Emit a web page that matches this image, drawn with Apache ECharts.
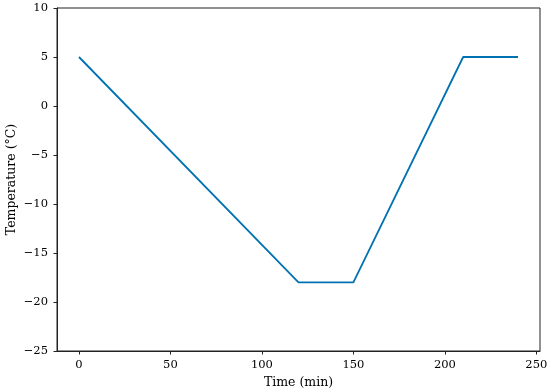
<!DOCTYPE html>
<html>
<head>
<meta charset="utf-8">
<script src="https://cdn.jsdelivr.net/npm/echarts@6/dist/echarts.min.js"></script>
<style>html,body{margin:0;padding:0;background:#fff}#c{width:550px;height:391px}</style>
</head>
<body>
<div id="c"></div>
<script>
const timeMin = [0, 120, 150, 210, 240];
const temperature = [5, -18, -18, 5, 5];
const xTicks = [0, 50, 100, 150, 200, 250];
const yTicks = [-25, -20, -15, -10, -5, 0, 5, 10];

const font = 'DejaVu Serif';
const fmt = v => String(v).replace('-', '\u2212');
const chart = echarts.init(document.getElementById('c'));
chart.setOption({
  animation: false,
  grid: {left: 57, right: 10, top: 8, bottom: 40, containLabel: false, outerBoundsMode: 'none',
         show: true, borderColor: '#222', borderWidth: 1, backgroundColor: 'transparent'},
  xAxis: {
    type: 'value', min: -12, max: 252,
    name: 'Time (min)', nameLocation: 'middle', nameGap: 25, nameMoveOverlap: false,
    nameTextStyle: {fontFamily: font, fontSize: 12.5, color: '#000'},
    axisLine: {show: true, onZero: false, lineStyle: {color: '#222', width: 1}},
    axisTick: {show: true, length: 3.5, lineStyle: {color: '#222'}, customValues: xTicks},
    axisLabel: {fontFamily: font, fontSize: 11.5, color: '#000', margin: 8, customValues: xTicks, formatter: fmt},
    splitLine: {show: false}
  },
  yAxis: {
    type: 'value', min: -25, max: 10, interval: 5,
    name: 'Temperature (°C)', nameLocation: 'middle', nameGap: 39, nameRotate: 90, nameMoveOverlap: false,
    nameTextStyle: {fontFamily: font, fontSize: 12.5, color: '#000'},
    axisLine: {show: true, onZero: false, lineStyle: {color: '#222', width: 1}},
    axisTick: {show: true, length: 3.5, lineStyle: {color: '#222'}},
    axisLabel: {fontFamily: font, fontSize: 11.5, color: '#000', margin: 9, formatter: fmt},
    splitLine: {show: false}
  },
  series: [{
    type: 'line',
    data: timeMin.map((t, i) => [t, temperature[i]]),
    showSymbol: false,
    lineStyle: {color: '#0072B2', width: 1.8},
    itemStyle: {color: '#0072B2'}
  }]
});
</script>
</body>
</html>
